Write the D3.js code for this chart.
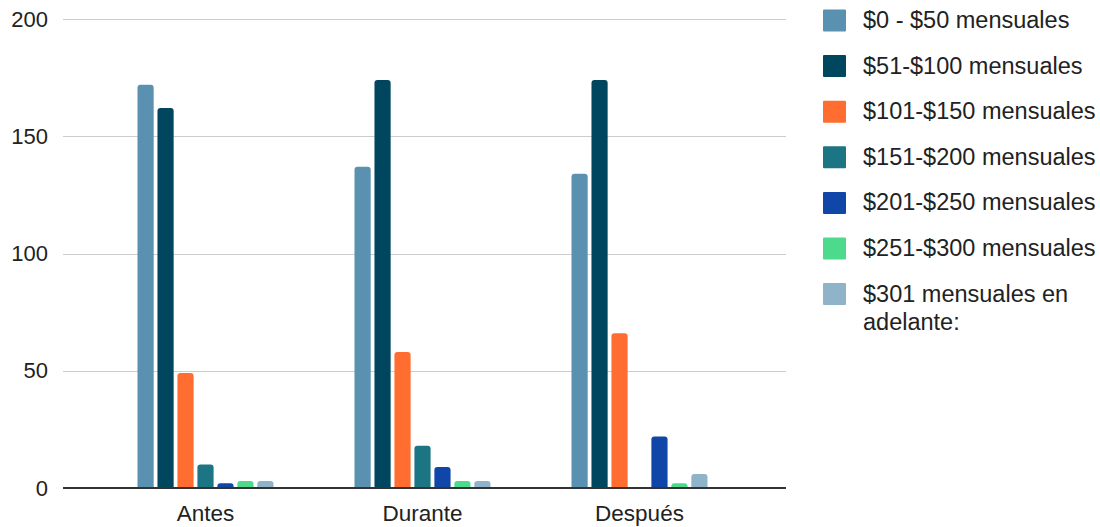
<!DOCTYPE html>
<html>
<head>
<meta charset="utf-8">
<script src="https://cdn.jsdelivr.net/npm/d3@7"></script>
<style>
  html, body { margin: 0; padding: 0; background: #fff; }
  svg { display: block; font-family: "Liberation Sans", Arial, sans-serif; }
</style>
</head>
<body>
<svg id="chart" width="1100" height="527"></svg>
<script>
// Periods on the x axis
const categories = ["Antes", "Durante", "Después"];

// Monthly spending brackets (series)
const seriesNames = [
  "$0 - $50 mensuales",
  "$51-$100 mensuales",
  "$101-$150 mensuales",
  "$151-$200 mensuales",
  "$201-$250 mensuales",
  "$251-$300 mensuales",
  "$301 mensuales en adelante:"
];

// Counts per bracket, one value per period (Antes, Durante, Después)
const s0to50    = [172, 137, 134];
const s51to100  = [162, 174, 174];
const s101to150 = [49, 58, 66];
const s151to200 = [10, 18, 0];
const s201to250 = [2, 9, 22];
const s251to300 = [3, 3, 2];
const s301plus  = [3, 3, 6];

const seriesColors = ["#5a91b0", "#01465f", "#ff6d31", "#1c7583", "#0f46a8", "#4dda8c", "#8fb4c9"];

const yTicks = [0, 50, 100, 150, 200];

const seriesValues = [s0to50, s51to100, s101to150, s151to200, s201to250, s251to300, s301plus];

const svg = d3.select("#chart");

const plot = { left: 63, right: 786, top: 19, bottom: 488 };

const y = d3.scaleLinear().domain([0, 200]).range([plot.bottom, plot.top]);

const x0 = d3.scaleBand().domain(categories).range([97, 748]).paddingInner(0).paddingOuter(0);
const x1 = d3.scaleBand().domain(d3.range(seriesNames.length))
  .range([x0.bandwidth() / 2 - 68, x0.bandwidth() / 2 + 68]).paddingInner(0.19);

// Horizontal gridlines
svg.append("g")
  .selectAll("line")
  .data(yTicks.filter(d => d !== 0))
  .join("line")
  .attr("x1", plot.left).attr("x2", plot.right)
  .attr("y1", d => Math.round(y(d)) + 0.5).attr("y2", d => Math.round(y(d)) + 0.5)
  .attr("stroke", "#cccccc").attr("stroke-width", 1);

// Y axis tick labels
const yAxis = d3.axisLeft(y).tickValues(yTicks).tickSize(0).tickPadding(0);
const gy = svg.append("g").attr("transform", `translate(48,0)`).call(yAxis);
gy.select(".domain").remove();
gy.selectAll("text")
  .attr("font-size", 22)
  .attr("fill", "#222")
  .attr("font-family", '"Liberation Sans", Arial, sans-serif');

// Bars with rounded top corners
function barPath(xl, w, top, bottom) {
  const h = bottom - top;
  const r = Math.min(3, w / 2, h);
  if (h <= 0) return "";
  return `M${xl},${bottom}V${top + r}Q${xl},${top} ${xl + r},${top}H${xl + w - r}Q${xl + w},${top} ${xl + w},${top + r}V${bottom}Z`;
}

const groups = svg.append("g")
  .selectAll("g")
  .data(categories)
  .join("g")
  .attr("transform", d => `translate(${x0(d)},0)`);

groups.selectAll("path")
  .data((c, ci) => seriesValues.map((vals, si) => ({ si, v: vals[ci] })))
  .join("path")
  .attr("d", d => barPath(x1(d.si), x1.bandwidth(), y(d.v), y(0)))
  .attr("fill", d => seriesColors[d.si]);

// Baseline
svg.append("line")
  .attr("x1", plot.left).attr("x2", plot.right)
  .attr("y1", plot.bottom).attr("y2", plot.bottom)
  .attr("stroke", "#333").attr("stroke-width", 2);

// X axis category labels
const xAxis = d3.axisBottom(x0).tickSize(0).tickPadding(0);
const gx = svg.append("g").attr("transform", `translate(0,${plot.bottom})`).call(xAxis);
gx.select(".domain").remove();
gx.selectAll("text")
  .attr("y", 33)
  .attr("dy", null)
  .attr("font-size", 22.5)
  .attr("fill", "#222")
  .attr("font-family", '"Liberation Sans", Arial, sans-serif');

// Legend
const legendLines = [
  ["$0 - $50 mensuales"],
  ["$51-$100 mensuales"],
  ["$101-$150 mensuales"],
  ["$151-$200 mensuales"],
  ["$201-$250 mensuales"],
  ["$251-$300 mensuales"],
  ["$301 mensuales en", "adelante:"]
];
const legend = svg.append("g");
const item = legend.selectAll("g")
  .data(seriesNames)
  .join("g")
  .attr("transform", (d, i) => `translate(823,${20.5 + i * 45.6})`);
item.append("rect")
  .attr("x", 0).attr("y", -11).attr("width", 23).attr("height", 22).attr("rx", 1)
  .attr("fill", (d, i) => seriesColors[i]);
item.append("text")
  .attr("font-size", 23.5)
  .attr("fill", "#222")
  .selectAll("tspan")
  .data((d, i) => legendLines[i])
  .join("tspan")
  .attr("x", 40)
  .attr("y", (d, j) => 7.5 + j * 28)
  .text(d => d);
</script>
</body>
</html>
